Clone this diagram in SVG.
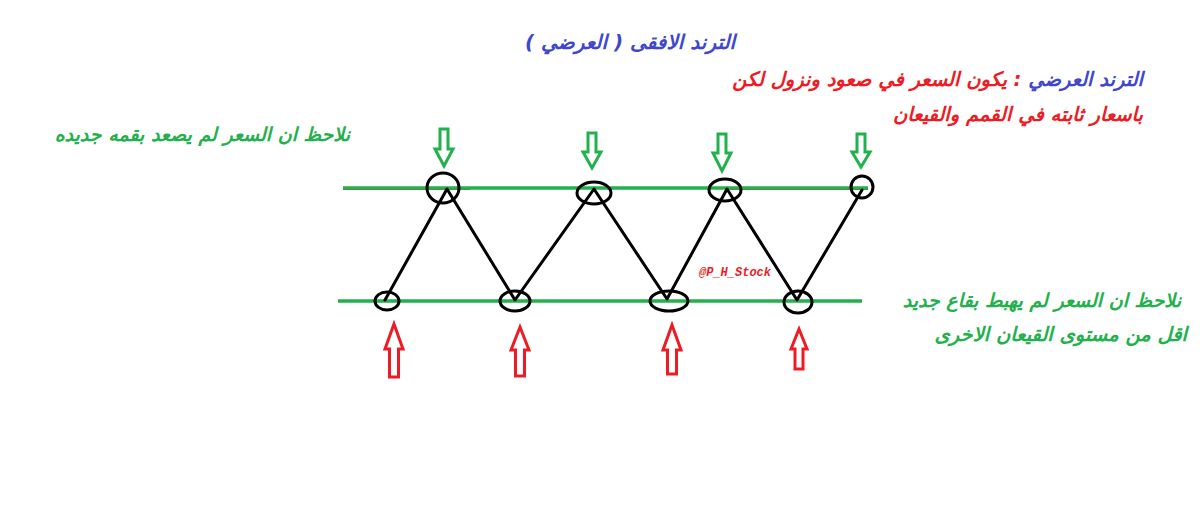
<svg xmlns="http://www.w3.org/2000/svg" width="1200" height="520" viewBox="0 0 1200 520">
<defs>
<style>
.ar{font-family:"DejaVu Sans","Noto Sans",sans-serif;font-weight:bold;font-style:italic}
.blue{fill:#3f48cc}
.red{fill:#ed1c24}
.green{fill:#22b14c}
.gl{stroke:#22b14c;stroke-width:3.5;fill:none}
.blk{stroke:#000;stroke-width:3;fill:none;stroke-linejoin:round;stroke-linecap:round}
.ring{stroke:#000;stroke-width:3;fill:none}
.ga{stroke:#22b14c;stroke-width:3;fill:#fff;stroke-linejoin:miter}
.ra{stroke:#ed1c24;stroke-width:3;fill:#fff;stroke-linejoin:miter}
.wm{font-family:"Liberation Mono",monospace;font-weight:bold;font-style:italic;font-size:12px;fill:#ed1c24}
</style>
</defs>
<rect width="1200" height="520" fill="#fff"/>

<g id="title">
<text class="ar blue" x="630" y="49" font-size="20" text-anchor="middle" direction="rtl">الترند الافقى ( العرضي )</text>
</g>

<g id="definition">
<text class="ar" x="1143" y="86" font-size="19.5" direction="rtl" text-anchor="start"><tspan class="blue">الترند العرضي</tspan><tspan class="red"> : يكون السعر في صعود ونزول لكن</tspan></text>
<text class="ar red" x="1143" y="121" font-size="19.5" direction="rtl" text-anchor="start">باسعار ثابته في القمم والقيعان</text>
</g>

<g id="note-top">
<text class="ar green" x="350" y="141" font-size="19" direction="rtl" text-anchor="start">نلاحظ ان السعر لم يصعد بقمه جديده</text>
</g>

<g id="note-bottom">
<text class="ar green" x="1181" y="307" font-size="19" direction="rtl" text-anchor="start">نلاحظ ان السعر لم يهبط بقاع جديد</text>
<text class="ar green" x="1187" y="341" font-size="19.5" direction="rtl" text-anchor="start">اقل من مستوى القيعان الاخرى</text>
</g>

<g id="levels">
<line x1="343" y1="189.5" x2="470" y2="189.5" stroke="#ed1c24" stroke-width="1"/>
<line x1="730" y1="189.5" x2="868" y2="189.5" stroke="#ed1c24" stroke-width="1"/>
<line class="gl" x1="343" y1="188" x2="868" y2="188"/>
<line class="gl" x1="338" y1="301" x2="862" y2="301"/>
</g>

<g id="connectors">
<polyline class="blk" points="385,300 447,189 515,300 594,189 667,299 727,189 797,300 862,190"/>
</g>

<g id="tops">
<ellipse class="ring" cx="443" cy="188" rx="16" ry="15"/>
<ellipse class="ring" cx="594" cy="193" rx="17" ry="11"/>
<ellipse class="ring" cx="725" cy="190" rx="16" ry="11"/>
<ellipse class="ring" cx="862" cy="187" rx="11" ry="11"/>
</g>

<g id="bottoms">
<ellipse class="ring" cx="387" cy="301" rx="12" ry="9"/>
<ellipse class="ring" cx="515" cy="301" rx="15" ry="10"/>
<ellipse class="ring" cx="669" cy="301" rx="19" ry="10"/>
<ellipse class="ring" cx="798" cy="302" rx="14" ry="11"/>
</g>

<g id="down-arrows">
<path class="ga" d="M440,129 H448 V149 H453 L444,166 L435,149 H440 Z"/>
<path class="ga" d="M588,133 H596 V152 H601 L592,168 L583,152 H588 Z"/>
<path class="ga" d="M718,134 H726 V153 H731 L722,171 L713,153 H718 Z"/>
<path class="ga" d="M857,134 H865 V152 H870 L861,167 L852,152 H857 Z"/>
</g>

<g id="up-arrows">
<path class="ra" d="M394,324 L403,349 H398.5 V377 H389.5 V349 H385 Z"/>
<path class="ra" d="M520,327 L529,350 H524.5 V376 H515.5 V350 H511 Z"/>
<path class="ra" d="M672,325 L681,350 H676.5 V374 H667.5 V350 H663 Z"/>
<path class="ra" d="M799,329 L807,349 H803 V369 H795 V349 H791 Z"/>
</g>

<g id="watermark">
<text class="wm" x="699" y="276">@P_H_Stock</text>
</g>
</svg>
